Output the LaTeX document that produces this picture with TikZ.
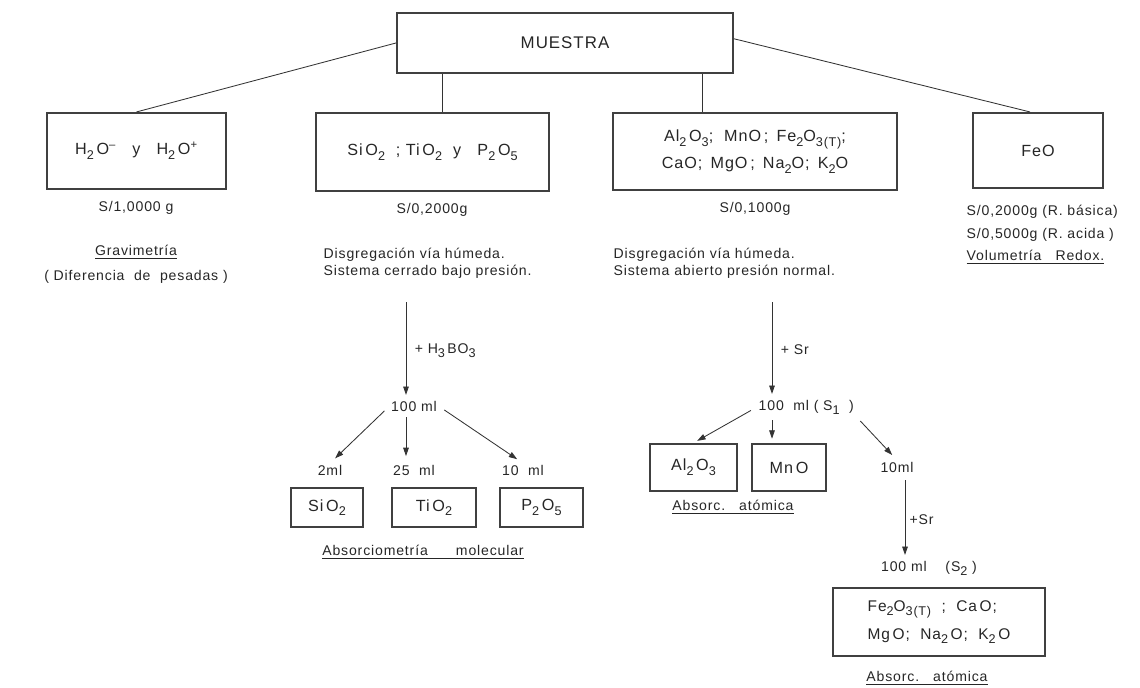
\documentclass[tikz,border=0pt]{standalone}
\usepackage{fontspec}
\setmainfont[LetterSpace=6]{Liberation Sans}
\usetikzlibrary{arrows.meta}
\newcommand{\sbs}[1]{\raisebox{-0.55ex}{\fontsize{9}{9}\selectfont #1}}
\tikzset{
  caja/.style={draw=black!75, line width=1.5pt, inner sep=0pt, font=\fontsize{11.5}{13}\selectfont},
  txt/.style={inner sep=1pt, font=\fontsize{10}{12}\selectfont},
  linea/.style={black!80, line width=0.6pt},
  flecha/.style={-{Triangle[length=6pt,width=4pt]}, black!80, line width=0.6pt}
}
\begin{document}
\begin{tikzpicture}[x=0.025cm, y=-0.025cm, every node/.style={text=black!85}]
\useasboundingbox (0,0) rectangle (1140,687);

% muestra y primeras cajas
\node[caja, minimum width=8.4cm, minimum height=1.5cm, font=\fontsize{12}{14}\selectfont] (muestra) at (565,43) {MUESTRA};
\node[caja, minimum width=4.475cm, minimum height=1.9cm] (b1) at (136.5,151) {H\sbs{2}\,O\textsuperscript{--}\quad y\quad H\sbs{2}\,O\textsuperscript{+}};
\node[caja, minimum width=5.825cm, minimum height=1.95cm] (b2) at (432.5,152) {Si\,O\sbs{2} \ ; Ti\,O\sbs{2} \ y \ \ P\sbs{2}\,O\sbs{5}};
\node[caja, minimum width=7.1cm, minimum height=1.925cm, align=center, font=\fontsize{11.5}{19}\selectfont] (b3) at (755,151.5) {Al\sbs{2}\,O\sbs{3}; \ MnO\,; \,Fe\sbs{2}O\sbs{3(T)};\\ CaO; \,MgO\,; \,Na\sbs{2}O; \,K\sbs{2}O};
\node[caja, minimum width=3.25cm, minimum height=1.875cm] (b4) at (1038,150.5) {FeO};

\coordinate (t2) at ([xshift=0.2375cm]b2.north);
\coordinate (t3) at ([xshift=-1.325cm]b3.north);
\draw[linea] (muestra.west) -- (b1.north);
\draw[linea] ([yshift=3pt]muestra.east) -- ([xshift=-0.2cm]b4.north);
\draw[linea] (t2) -- (t2 |- muestra.south);
\draw[linea] (t3) -- (t3 |- muestra.south);

% pesadas y metodos
\node[txt] (p1) at (136,208) {S/1,0000 g};
\node[txt] (p2) at (432,210) {S/0,2000g};
\node[txt] (p3) at (755,209) {S/0,1000g};
\node[txt, anchor=west] (p4a) at (965,212) {S/0,2000g (R. básica)};
\node[txt, anchor=west] (p4b) at (965,235) {S/0,5000g (R. acida )};
\node[txt, anchor=west] (m4) at (965,257) {\underline{Volumetría\quad Redox.}};
\node[txt] (m1) at (136,252) {\underline{Gravimetría}};
\node[txt] (m1b) at (136,277) {( Diferencia \ de \ pesadas )};
\node[txt, anchor=west, align=left] (d2) at (322,263) {Disgregación vía húmeda.\\ Sistema cerrado bajo presión.};
\node[txt, anchor=west, align=left] (d3) at (612,263) {Disgregación vía húmeda.\\ Sistema abierto presión normal.};

% rama SiO2, TiO2, P2O5
\coordinate (s2) at (406,302);
\node[txt] (v2) at (414,406) {100 ml};
\draw[flecha, shorten >=3pt] (s2) -- (s2 |- v2.north) node[midway, right=5pt, txt] (l2) {+ H\sbs{3}\,BO\sbs{3}};
\node[txt] (c1) at (330,470) {2ml};
\node[txt] (c2) at (414,470) {25 \ ml};
\node[txt] (c3) at (523,470) {10 \ ml};
\draw[flecha, shorten <=5pt, shorten >=5pt] (v2.west) -- (c1.north);
\draw[flecha, shorten <=3pt, shorten >=5pt] (s2 |- v2.south) -- (s2 |- c2.north);
\draw[flecha, shorten <=5pt, shorten >=5pt] (v2.east) -- (c3.north);
\node[caja, minimum width=1.8cm, minimum height=0.975cm] (e1) at (327,507.5) {Si\,O\sbs{2}};
\node[caja, minimum width=2.1cm, minimum height=0.975cm] (e2) at (434,507.5) {Ti\,O\sbs{2}};
\node[caja, minimum width=2.075cm, minimum height=0.975cm] (e3) at (541.5,507.5) {P\sbs{2}\,O\sbs{5}};
\node[txt] (m2) at (423,552) {\underline{Absorciometría\qquad molecular}};

% rama absorcion atomica
\coordinate (s3) at (772,302);
\node[txt, anchor=west] (v3) at (757,407) {100 \ ml ( S\sbs{1} \ )};
\draw[flecha, shorten >=3pt] (s3) -- (s3 |- v3.north) node[midway, right=5pt, txt] (l3) {+ Sr};
\node[caja, minimum width=2.175cm, minimum height=1.175cm] (f1) at (693.5,467.5) {Al\sbs{2}\,O\sbs{3}};
\node[caja, minimum width=1.85cm, minimum height=1.175cm] (f2) at (789,467.5) {Mn\,O};
\node[txt] (g1) at (897,467) {10ml};
\draw[flecha, shorten <=5pt, shorten >=3pt] (v3.west) -- (f1.north);
\draw[flecha, shorten <=3pt, shorten >=3pt] (s3 |- v3.south) -- (s3 |- f2.north);
\draw[flecha, shorten <=5pt, shorten >=5pt] (v3.south east) -- (g1.north);
\node[txt] (m3) at (733,507) {\underline{Absorc.\quad atómica}};

\coordinate (s4) at (905,480);
\node[txt] (v4) at (929,568) {100 ml \quad (S\sbs{2} )};
\draw[flecha, shorten >=3pt] (s4) -- (s4 |- v4.north) node[midway, right=2pt, txt] (l4) {+Sr};
\node[caja, minimum width=5.3cm, minimum height=1.7cm, align=left, font=\fontsize{11}{20}\selectfont] (h1) at (939,622) {Fe\sbs{2}O\sbs{3(T)} \ ; \ Ca\,O;\\ Mg\,O; \ Na\sbs{2}\,O; \ K\sbs{2}\,O};
\node[txt] (m5) at (927,678) {\underline{Absorc.\quad atómica}};
\end{tikzpicture}
\end{document}
